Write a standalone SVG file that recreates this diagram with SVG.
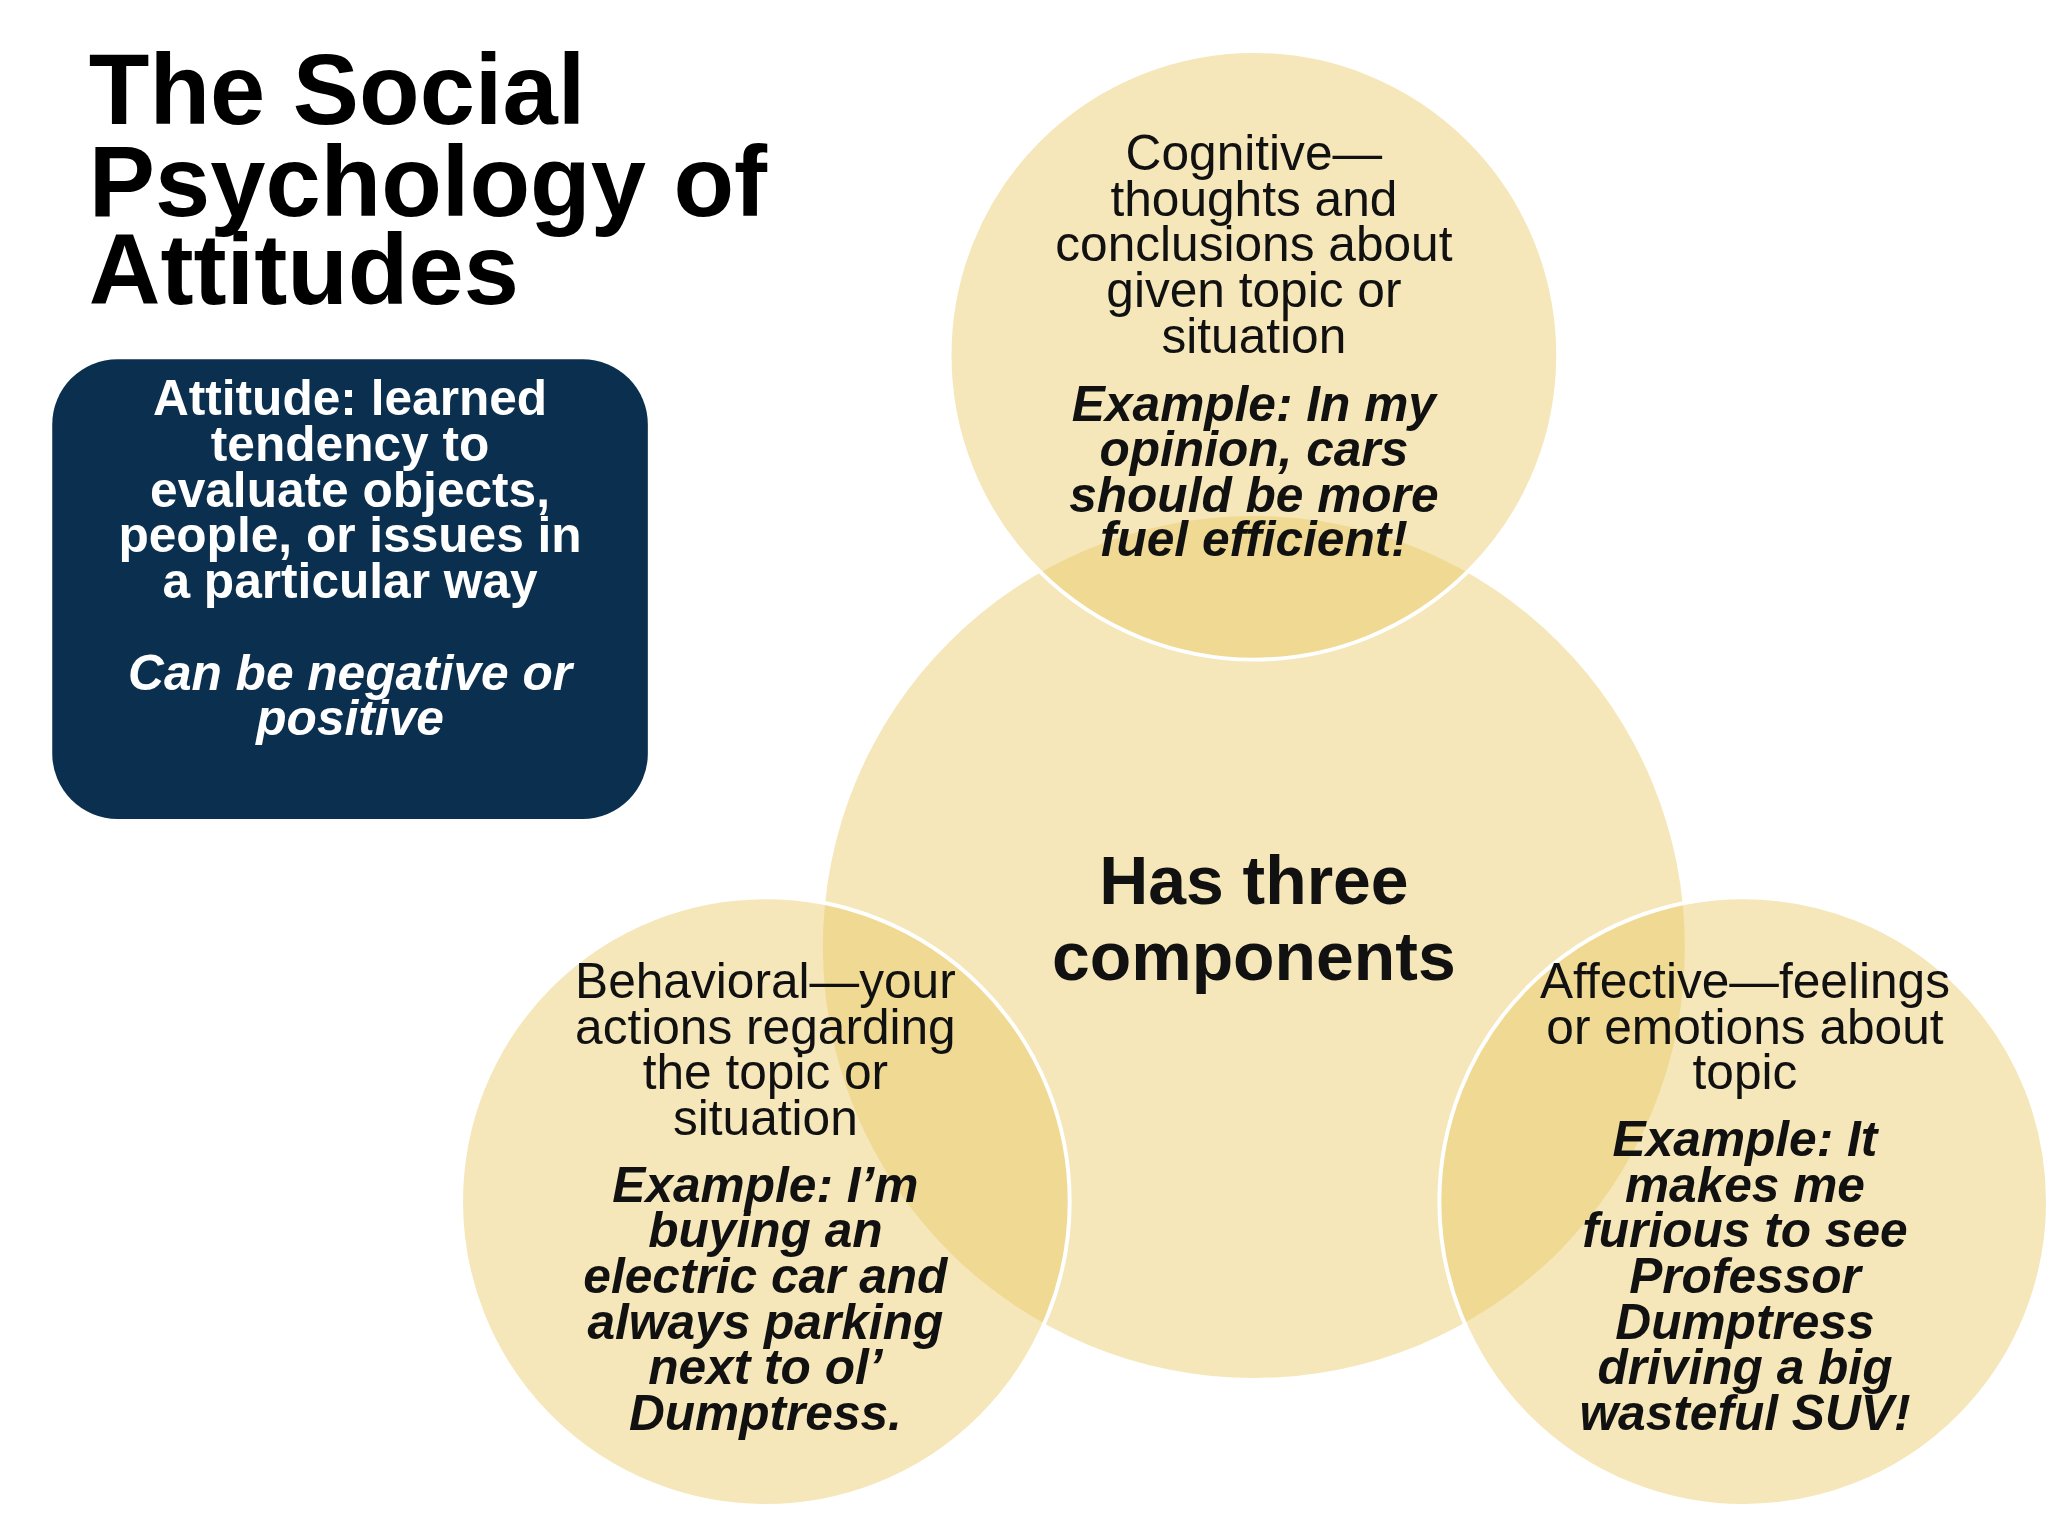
<svg xmlns="http://www.w3.org/2000/svg" width="2048" height="1536" viewBox="0 0 2048 1536">
<style>
.c{fill:rgb(233,202,102);fill-opacity:0.46}
.s{stroke:#fff;stroke-width:3}
text{font-family:"Liberation Sans",Arial,sans-serif;text-anchor:middle;fill:#111}
.n{font-size:38px}
.e{font-size:38px;font-weight:bold;font-style:italic}
.w{fill:#fff;font-size:38px;font-weight:bold}
.t{text-anchor:start;font-size:76px;font-weight:bold;fill:#000}
</style>
<rect width="2048" height="1536" fill="#fff"/>
<g transform="scale(1.30612)">
<g id="title"><text class="t" x="68" y="95">The Social</text>
<text class="t" x="68" y="165">Psychology of</text>
<text class="t" x="68" y="233">Attitudes</text></g>
<g id="definition"><rect x="40" y="275" width="456" height="352" rx="50" fill="#0b2f4e"/>
<text class="w" x="268" y="318">Attitude: learned</text>
<text class="w" x="268" y="353">tendency to</text>
<text class="w" x="268" y="388">evaluate objects,</text>
<text class="w" x="268" y="423">people, or issues in</text>
<text class="w" x="268" y="458">a particular way</text>
<text class="w" x="268" y="528" font-style="italic">Can be negative or</text>
<text class="w" x="268" y="563" font-style="italic">positive</text></g>
<g id="center"><circle class="c" cx="960" cy="725" r="330"/></g>
<g id="cognitive"><circle class="c s" cx="960" cy="272" r="233"/></g>
<g id="behavioral"><circle class="c s" cx="586" cy="920" r="233"/></g>
<g id="affective"><circle class="c s" cx="1335" cy="920" r="233"/></g>
<g id="connectors"/>
<g id="labels">
<text x="960" y="692" style="font-size:52px;font-weight:bold">Has three</text>
<text x="960" y="750" style="font-size:52px;font-weight:bold">components</text>
<text class="n" x="960" y="130">Cognitive—</text>
<text class="n" x="960" y="165">thoughts and</text>
<text class="n" x="960" y="200">conclusions about</text>
<text class="n" x="960" y="235">given topic or</text>
<text class="n" x="960" y="270">situation</text>
<text class="e" x="960" y="322">Example: In my</text>
<text class="e" x="960" y="357">opinion, cars</text>
<text class="e" x="960" y="392">should be more</text>
<text class="e" x="960" y="426">fuel efficient!</text>
<text class="n" x="586" y="764">Behavioral—your</text>
<text class="n" x="586" y="799">actions regarding</text>
<text class="n" x="586" y="834">the topic or</text>
<text class="n" x="586" y="869">situation</text>
<text class="e" x="586" y="920">Example: I’m</text>
<text class="e" x="586" y="955">buying an</text>
<text class="e" x="586" y="990">electric car and</text>
<text class="e" x="586" y="1025">always parking</text>
<text class="e" x="586" y="1060">next to ol’</text>
<text class="e" x="586" y="1095">Dumptress.</text>
<text class="n" x="1336" y="764">Affective—feelings</text>
<text class="n" x="1336" y="799">or emotions about</text>
<text class="n" x="1336" y="834">topic</text>
<text class="e" x="1336" y="885">Example: It</text>
<text class="e" x="1336" y="920">makes me</text>
<text class="e" x="1336" y="955">furious to see</text>
<text class="e" x="1336" y="990">Professor</text>
<text class="e" x="1336" y="1025">Dumptress</text>
<text class="e" x="1336" y="1060">driving a big</text>
<text class="e" x="1336" y="1095">wasteful SUV!</text>
</g>
</g>
</svg>
